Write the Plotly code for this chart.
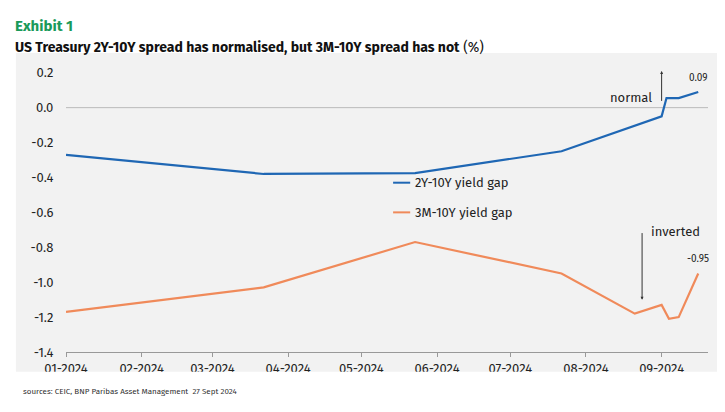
import plotly.graph_objects as go

dates_2y = ["2024-01-01", "2024-03-22", "2024-05-23", "2024-07-22", "2024-09-01", "2024-09-03", "2024-09-08", "2024-09-16"]
gap_2y = [-0.27, -0.38, -0.375, -0.25, -0.05, 0.055, 0.055, 0.09]
dates_3m = ["2024-01-01", "2024-03-22", "2024-05-23", "2024-07-22", "2024-08-21", "2024-09-01", "2024-09-04", "2024-09-08", "2024-09-16"]
gap_3m = [-1.17, -1.03, -0.77, -0.95, -1.18, -1.13, -1.21, -1.20, -0.95]
tick_dates = ["2024-%02d-01" % m for m in range(1, 10)]
tick_text = ["%02d-2024" % m for m in range(1, 10)]

fig = go.Figure()
fig.add_trace(go.Scatter(x=dates_2y, y=gap_2y, mode="lines", line=dict(color="#1f67b4", width=2.2), showlegend=False))
fig.add_trace(go.Scatter(x=dates_3m, y=gap_3m, mode="lines", line=dict(color="#f08a5a", width=2.2), showlegend=False))

# white bands around the grey panel
for x0, x1, y0, y1 in [(-0.2, 1.2, 1.024, 1.3), (-0.2, 1.2, -0.4, -0.068), (-0.2, -0.078, -0.4, 1.3), (1.019, 1.2, -0.4, 1.3)]:
    fig.add_shape(type="rect", xref="paper", yref="paper", x0=x0, x1=x1, y0=y0, y1=y1,
                  fillcolor="white", line=dict(width=0), layer="above")
fig.add_hline(y=0, line=dict(color="#bbbbbb", width=1), layer="below")

f = "Fira Sans, Noto Sans, sans-serif"
fig.add_annotation(x=-0.083, y=1.154, xref="paper", yref="paper", xanchor="left", text="<b>Exhibit 1</b>", showarrow=False, font=dict(color="#1a9a5a", size=15, family=f))
fig.add_annotation(x=-0.083, y=1.078, xref="paper", yref="paper", xanchor="left", text="<b>US Treasury 2Y-10Y spread has normalised, but 3M-10Y spread has not</b> (%)", showarrow=False, font=dict(color="#111", size=14, family=f))
fig.add_annotation(x=-0.07, y=-0.157, xref="paper", yref="paper", xanchor="left", text="sources: CEIC, BNP Paribas Asset Management  27 Sept 2024", showarrow=False, font=dict(color="#333", size=8, family=f))

# legend-like labels
fig.add_shape(type="line", x0="2024-05-14", x1="2024-05-21", y0=-0.43, y1=-0.43, line=dict(color="#1f67b4", width=2))
fig.add_annotation(x="2024-05-22", y=-0.43, text="2Y-10Y yield gap", xanchor="left", showarrow=False, font=dict(size=13, family=f, color="#222"))
fig.add_shape(type="line", x0="2024-05-14", x1="2024-05-21", y0=-0.6, y1=-0.6, line=dict(color="#f08a5a", width=2))
fig.add_annotation(x="2024-05-22", y=-0.6, text="3M-10Y yield gap", xanchor="left", showarrow=False, font=dict(size=13, family=f, color="#222"))

fig.add_annotation(x="2024-09-01", y=0.21, ax="2024-09-01", ay=0.03, xref="x", yref="y", axref="x", ayref="y", showarrow=True, arrowhead=2, arrowsize=0.6, arrowwidth=1, arrowcolor="#333", text="")
fig.add_annotation(x="2024-08-29", y=0.06, text="normal", xanchor="right", showarrow=False, font=dict(size=13, family=f, color="#222"))
fig.add_annotation(x="2024-08-24", y=-1.1, ax="2024-08-24", ay=-0.71, xref="x", yref="y", axref="x", ayref="y", showarrow=True, arrowhead=2, arrowsize=0.6, arrowwidth=1, arrowcolor="#333", text="")
fig.add_annotation(x="2024-08-27", y=-0.71, text="inverted", xanchor="left", showarrow=False, font=dict(size=13, family=f, color="#222"))
fig.add_annotation(x="2024-09-16", y=gap_2y[-1], text="%.2f" % gap_2y[-1], yshift=14, showarrow=False, font=dict(size=10, family=f, color="#222"))
fig.add_annotation(x="2024-09-16", y=gap_3m[-1], text="%.2f" % gap_3m[-1], yshift=14, showarrow=False, font=dict(size=10, family=f, color="#222"))

fig.update_layout(
    width=725, height=412, margin=dict(l=58, r=25, t=52, b=68),
    paper_bgcolor="#f2f2f2", plot_bgcolor="#f2f2f2",
    font=dict(family=f, color="#222", size=13),
    xaxis=dict(range=["2024-01-01", "2024-09-20"], tickvals=tick_dates, ticktext=tick_text, showgrid=False,
               showline=True, linecolor="#999", ticks="outside", tickcolor="#999", ticklen=4, zeroline=False),
    yaxis=dict(range=[-1.4, 0.273], tickvals=[0.2, 0, -0.2, -0.4, -0.6, -0.8, -1.0, -1.2, -1.4],
               ticktext=["0.2", "0.0", "-0.2", "-0.4", "-0.6", "-0.8", "-1.0", "-1.2", "-1.4"],
               showgrid=False, zeroline=False, showline=False, ticks="outside", ticklen=9, tickcolor="rgba(0,0,0,0)"),
)
fig.write_html("out.html")
